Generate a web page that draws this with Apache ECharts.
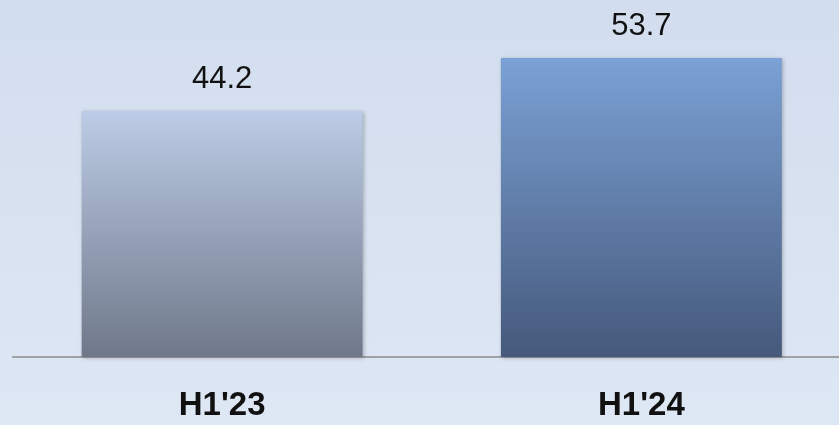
<!DOCTYPE html>
<html>
<head>
<meta charset="utf-8">
<script src="https://cdn.jsdelivr.net/npm/echarts@6/dist/echarts.min.js"></script>
<style>
html,body{margin:0;padding:0;overflow:hidden;width:839px;height:425px;}
#chart{width:851px;height:425px;}
</style>
</head>
<body>
<div id="chart"></div>
<script>
const categories = ["H1'23", "H1'24"];
const values = [44.2, 53.7];

const barGradients = [
  ['#bdcce6', '#6e7889'],
  ['#7ba1d5', '#45597b']
];

const chart = echarts.init(document.getElementById('chart'), null, {renderer: 'canvas'});
const option = {
  animation: false,
  backgroundColor: new echarts.graphic.LinearGradient(0, 0, 0, 1, [
    {offset: 0, color: '#d2ddee'},
    {offset: 1, color: '#dee7f4'}
  ]),
  grid: {left: 12.5, right: 0, top: 23, bottom: 68, containLabel: false},
  xAxis: {
    type: 'category',
    data: categories,
    axisLine: {show: true, lineStyle: {color: '#8a8a8a', width: 1.5}},
    axisTick: {show: false},
    axisLabel: {
      color: '#111',
      fontFamily: 'Liberation Sans',
      fontWeight: 'bold',
      fontSize: 33,
      margin: 32
    }
  },
  yAxis: {
    type: 'value',
    min: 0,
    max: 60,
    show: false,
    splitLine: {show: false}
  },
  series: [{
    type: 'bar',
    barWidth: '67%',
    data: values.map((v, i) => ({
      value: v,
      itemStyle: {
        color: new echarts.graphic.LinearGradient(0, 0, 0, 1, [
          {offset: 0, color: barGradients[i][0]},
          {offset: 1, color: barGradients[i][1]}
        ]),
        shadowColor: 'rgba(0,0,0,0.25)',
        shadowBlur: 4,
        shadowOffsetX: 1,
        shadowOffsetY: 1
      }
    })),
    label: {
      show: true,
      position: 'top',
      distance: 16,
      color: '#111',
      fontFamily: 'Liberation Sans',
      fontSize: 31,
      formatter: p => p.value.toFixed(1)
    }
  }]
};
chart.setOption(option);
</script>
</body>
</html>
